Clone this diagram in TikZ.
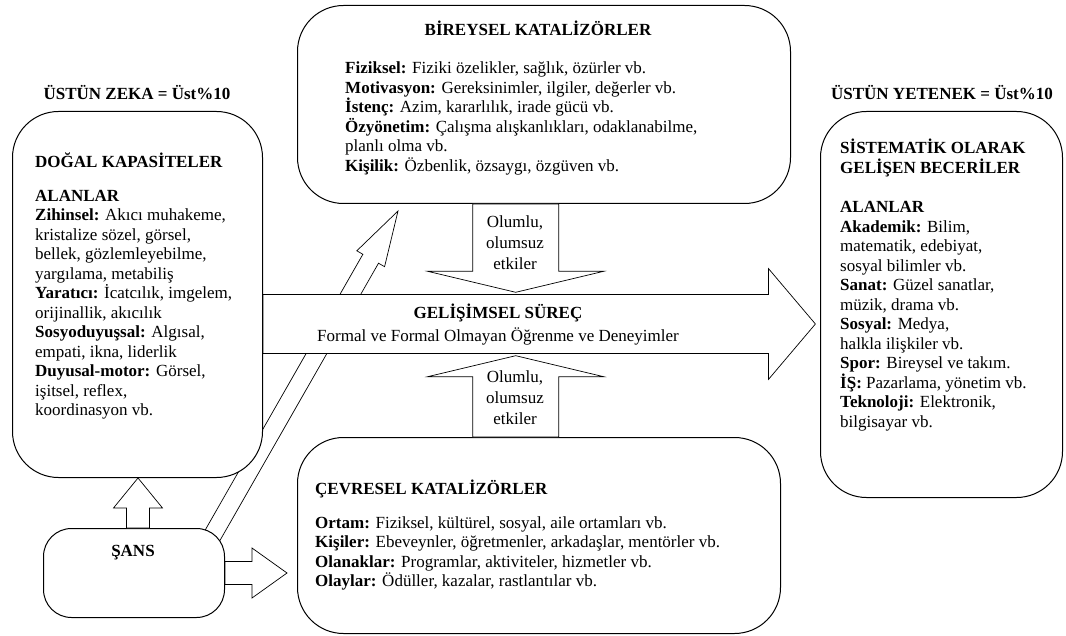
\documentclass[tikz,border=0pt]{standalone}
\usepackage{fontspec}
\setmainfont{Liberation Serif}
\usetikzlibrary{calc,positioning,backgrounds}

\newcommand{\diagfont}{\fontsize{17}{19.5}\selectfont}

% hollow block arrow: from, to, half shaft, half head, head length
\newcommand{\hollowarrow}[5]{%
  \coordinate (hb) at ($(#2)!#5!(#1)$);
  \draw[blockarrow] ($(#1)!#3!90:(#2)$) -- ($(hb)!#3!-90:(#1)$)
    -- ($(hb)!#4!-90:(#1)$) -- (#2) -- ($(hb)!#4!90:(#1)$)
    -- ($(hb)!#3!90:(#1)$) -- ($(#1)!#3!-90:(#2)$) -- cycle;
}

\begin{document}
\begin{tikzpicture}[x=1pt, y=-1pt, font=\diagfont,
    capbox/.style={draw, line width=1pt, rounded corners=46pt, fill=white, inner sep=0pt},
    blockarrow/.style={draw, line width=0.7pt, fill=white},
    headtext/.style={font=\diagfont\bfseries, inner sep=0pt},
    bodytext/.style={align=left, inner sep=0pt, anchor=north west}]
  \useasboundingbox (0,0) rectangle (1066,636);

  % Side titles
  \node[headtext] (zekatitle) at (137,93) {ÜSTÜN ZEKA = Üst\%10};
  \node[headtext] (yetenektitle) at (942,93) {ÜSTÜN YETENEK = Üst\%10};

  % Boxes
  \node[capbox, anchor=north west, minimum width=250pt, minimum height=366pt] (dogal) at (12,111) {};
  \node[capbox, anchor=north west, minimum width=493pt, minimum height=198pt] (bireysel) at (297,5) {};
  \node[capbox, anchor=north west, minimum width=242pt, minimum height=386pt] (yetenek) at (820,111) {};
  \node[capbox, anchor=north west, minimum width=483pt, minimum height=196pt] (cevresel) at (297,437) {};
  \node[capbox, anchor=north west, minimum width=181pt, minimum height=89pt,
        rounded corners=28pt] (sans) at (43,528) {};

  % Box texts
  \node[bodytext] (dogaltxt) at (35,153) {\textbf{DOĞAL KAPASİTELER}\\[14pt]
    \textbf{ALANLAR}\\
    \textbf{Zihinsel:} Akıcı muhakeme,\\
    kristalize sözel, görsel,\\
    bellek, gözlemleyebilme,\\
    yargılama, metabiliş\\
    \textbf{Yaratıcı:} İcatcılık, imgelem,\\
    orijinallik, akıcılık\\
    \textbf{Sosyoduyuşsal:} Algısal,\\
    empati, ikna, liderlik\\
    \textbf{Duyusal-motor:} Görsel,\\
    işitsel, reflex,\\
    koordinasyon vb.};
  \node[headtext] (bireyseltitle) at (538,28) {BİREYSEL KATALİZÖRLER};
  \node[bodytext] (bireyseltxt) at (345,62) {\textbf{Fiziksel:} Fiziki özelikler, sağlık, özürler vb.\\
    \textbf{Motivasyon:} Gereksinimler, ilgiler, değerler vb.\\
    \textbf{İstenç:} Azim, kararlılık, irade gücü vb.\\
    \textbf{Özyönetim:} Çalışma alışkanlıkları, odaklanabilme,\\
    planlı olma vb.\\
    \textbf{Kişilik:} Özbenlik, özsaygı, özgüven vb.};
  \node[bodytext] (yetenektxt) at (840,139) {\textbf{SİSTEMATİK OLARAK}\\
    \textbf{GELİŞEN BECERİLER}\\[20pt]
    \textbf{ALANLAR}\\
    \textbf{Akademik:} Bilim,\\
    matematik, edebiyat,\\
    sosyal bilimler vb.\\
    \textbf{Sanat:} Güzel sanatlar,\\
    müzik, drama vb.\\
    \textbf{Sosyal:} Medya,\\
    halkla ilişkiler vb.\\
    \textbf{Spor:} Bireysel ve takım.\\
    \textbf{İŞ:} Pazarlama, yönetim vb.\\
    \textbf{Teknoloji:} Elektronik,\\
    bilgisayar vb.};
  \node[bodytext] (cevreseltxt) at (315,480) {\textbf{ÇEVRESEL KATALİZÖRLER}\\[14pt]
    \textbf{Ortam:} Fiziksel, kültürel, sosyal, aile ortamları vb.\\
    \textbf{Kişiler:} Ebeveynler, öğretmenler, arkadaşlar, mentörler vb.\\
    \textbf{Olanaklar:} Programlar, aktiviteler, hizmetler vb.\\
    \textbf{Olaylar:} Ödüller, kazalar, rastlantılar vb.};
  \node[headtext] (sanstitle) at (133,553) {ŞANS};

  % Chance to talent (behind)
  \coordinate (dstart) at (203,552);
  \coordinate (dtip) at (398,211);
  \begin{scope}[on background layer]
    \hollowarrow{dstart}{dtip}{9pt}{16pt}{55pt}
  \end{scope}

  % Developmental process
  \node[minimum width=505pt, minimum height=59pt, inner sep=0pt, anchor=west] (gelisim) at (263,324) {};
  \coordinate (gtip) at ($(gelisim.east)+(47,0)$);
  \hollowarrow{gelisim.west}{gtip}{29.5pt}{55.5pt}{47pt}
  \node[headtext] (gelisimtitle) at (498,313) {GELİŞİMSEL SÜREÇ};
  \node[inner sep=0pt] (gelisimsub) at (498,336) {Formal ve Formal Olmayan Öğrenme ve Deneyimler};

  % Catalyst influences
  \coordinate (otop) at (bireysel.south -| gelisim.north);
  \coordinate (otoptip) at ($(gelisim.north)+(0,-2)$);
  \hollowarrow{otop}{otoptip}{43pt}{88pt}{21pt}
  \coordinate (obot) at (cevresel.north -| gelisim.south);
  \coordinate (obottip) at ($(gelisim.south)+(0,2)$);
  \hollowarrow{obot}{obottip}{43pt}{88pt}{21pt}
  \node[align=center, inner sep=0pt, font=\fontsize{17}{21}\selectfont] (etki1) at (515,243) {Olumlu,\\ olumsuz\\ etkiler};
  \node[align=center, inner sep=0pt, font=\fontsize{17}{21}\selectfont] (etki2) at (515,398) {Olumlu,\\ olumsuz\\ etkiler};

  % Chance arrows
  \coordinate (upbase) at ($(sans.north)+(4,0)$);
  \coordinate (uptip) at (upbase |- dogal.south);
  \hollowarrow{upbase}{uptip}{11.5pt}{24.5pt}{30pt}
  \coordinate (rtip) at ($(cevresel.west |- sans.east)+(-10,0)$);
  \hollowarrow{sans.east}{rtip}{11.5pt}{25pt}{35pt}
\end{tikzpicture}
\end{document}
